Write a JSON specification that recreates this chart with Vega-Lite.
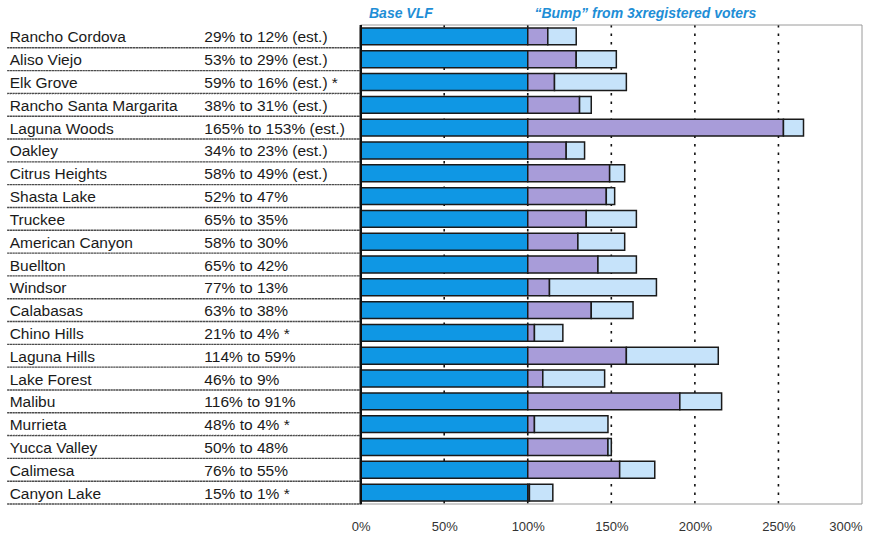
{
  "$schema": "https://vega.github.io/schema/vega-lite/v6.json",
  "autosize": {"type": "none"},
  "padding": {"left": 8, "top": 25, "right": 15, "bottom": 33},
  "width": 854,
  "height": 479,
  "background": "white",
  "config": {
    "view": {"stroke": null},
    "font": "Liberation Sans",
    "text": {"font": "Liberation Sans"}
  },
  "data": {
    "values": [
      {"city": "Rancho Cordova", "note": "29% to 12% (est.)", "base": 100, "reg": 112, "total": 129},
      {"city": "Aliso Viejo", "note": "53% to 29% (est.)", "base": 100, "reg": 129, "total": 153},
      {"city": "Elk Grove", "note": "59% to 16% (est.) *", "base": 100, "reg": 116, "total": 159},
      {"city": "Rancho Santa Margarita", "note": "38% to 31% (est.)", "base": 100, "reg": 131, "total": 138},
      {"city": "Laguna Woods", "note": "165% to 153% (est.)", "base": 100, "reg": 253, "total": 265},
      {"city": "Oakley", "note": "34% to 23% (est.)", "base": 100, "reg": 123, "total": 134},
      {"city": "Citrus Heights", "note": "58% to 49% (est.)", "base": 100, "reg": 149, "total": 158},
      {"city": "Shasta Lake", "note": "52% to 47%", "base": 100, "reg": 147, "total": 152},
      {"city": "Truckee", "note": "65% to 35%", "base": 100, "reg": 135, "total": 165},
      {"city": "American Canyon", "note": "58% to 30%", "base": 100, "reg": 130, "total": 158},
      {"city": "Buellton", "note": "65% to 42%", "base": 100, "reg": 142, "total": 165},
      {"city": "Windsor", "note": "77% to 13%", "base": 100, "reg": 113, "total": 177},
      {"city": "Calabasas", "note": "63% to 38%", "base": 100, "reg": 138, "total": 163},
      {"city": "Chino Hills", "note": "21% to 4% *", "base": 100, "reg": 104, "total": 121},
      {"city": "Laguna Hills", "note": "114% to 59%", "base": 100, "reg": 159, "total": 214},
      {"city": "Lake Forest", "note": "46% to 9%", "base": 100, "reg": 109, "total": 146},
      {"city": "Malibu", "note": "116% to 91%", "base": 100, "reg": 191, "total": 216},
      {"city": "Murrieta", "note": "48% to 4% *", "base": 100, "reg": 104, "total": 148},
      {"city": "Yucca Valley", "note": "50% to 48%", "base": 100, "reg": 148, "total": 150},
      {"city": "Calimesa", "note": "76% to 55%", "base": 100, "reg": 155, "total": 176},
      {"city": "Canyon Lake", "note": "15% to 1% *", "base": 100, "reg": 101, "total": 115}
    ]
  },
  "encoding": {
    "y": {
      "field": "city",
      "type": "nominal",
      "sort": null,
      "scale": {"paddingInner": 0, "paddingOuter": 0},
      "axis": null
    }
  },
  "layer": [
    {
      "data": {"values": [{"g": 50}, {"g": 100}, {"g": 150}, {"g": 200}, {"g": 250}]},
      "mark": {"type": "rule", "color": "#111", "strokeWidth": 1.6, "strokeDash": [2.5, 6]},
      "encoding": {
        "x": {"field": "g", "type": "quantitative"},
        "y": null
      }
    },
    {
      "data": {"values": [{"a": 0}]},
      "mark": {"type": "rect", "fill": null, "stroke": "#9a9a9a", "strokeWidth": 1},
      "encoding": {
        "x": {"datum": 0, "type": "quantitative"},
        "x2": {"datum": 300},
        "y": null
      }
    },
    {
      "mark": {"type": "tick", "orient": "horizontal", "filled": false, "fill": null, "stroke": "#000", "strokeWidth": 1.4, "strokeDash": [1.4, 1.4], "thickness": 0.01, "size": 353},
      "encoding": {
        "x": {"datum": -105.5, "type": "quantitative"},
        "y": {"field": "city", "type": "nominal", "sort": null, "bandPosition": 1}
      }
    },
    {
      "mark": {"type": "bar", "height": {"band": 0.74}, "fill": "#0F97E4", "stroke": "#1a1a1a", "strokeWidth": 1.5},
      "encoding": {
        "x": {
          "field": "base",
          "type": "quantitative",
          "scale": {"domain": [-211, 300], "nice": false, "zero": false},
          "axis": {
            "values": [0, 50, 100, 150, 200, 250, 300],
            "labelExpr": "datum.value + '%'",
            "domain": false,
            "ticks": false,
            "grid": false,
            "title": null,
            "labelFont": "Liberation Sans Narrow, Liberation Sans",
            "labelFontSize": 13,
            "labelColor": "#333",
            "labelPadding": 16
          }
        },
        "x2": {"datum": 0}
      }
    },
    {
      "mark": {"type": "bar", "height": {"band": 0.74}, "fill": "#A89CD9", "stroke": "#1a1a1a", "strokeWidth": 1.5},
      "encoding": {
        "x": {"field": "base", "type": "quantitative"},
        "x2": {"field": "reg"}
      }
    },
    {
      "mark": {"type": "bar", "height": {"band": 0.74}, "fill": "#C6E3FA", "stroke": "#1a1a1a", "strokeWidth": 1.5},
      "encoding": {
        "x": {"field": "reg", "type": "quantitative"},
        "x2": {"field": "total"}
      }
    },
    {
      "mark": {"type": "rule", "color": "#111", "strokeWidth": 1.3},
      "encoding": {
        "x": {"datum": 0, "type": "quantitative"},
        "y": null
      }
    },
    {
      "mark": {"type": "text", "align": "left", "baseline": "middle", "fontSize": 15.5, "color": "#1a1a1a", "dy": 1},
      "encoding": {
        "x": {"datum": -210, "type": "quantitative"},
        "text": {"field": "city"}
      }
    },
    {
      "mark": {"type": "text", "align": "left", "baseline": "middle", "fontSize": 15.5, "color": "#1a1a1a", "dy": 1},
      "encoding": {
        "x": {"datum": -93.5, "type": "quantitative"},
        "text": {"field": "note"}
      }
    },
    {
      "data": {"values": [{"t": "Base VLF", "p": 5}, {"t": "“Bump” from 3xregistered voters", "p": 104}]},
      "mark": {"type": "text", "align": "left", "baseline": "middle", "fontSize": 14, "fontWeight": "bold", "fontStyle": "italic", "color": "#1E8ED6"},
      "encoding": {
        "x": {"field": "p", "type": "quantitative"},
        "y": {"value": -11},
        "text": {"field": "t"}
      }
    }
  ]
}
